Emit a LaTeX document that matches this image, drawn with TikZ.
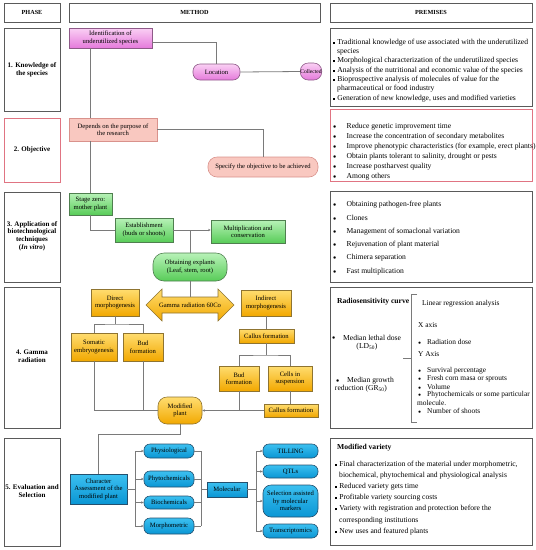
\documentclass[tikz,border=0pt]{standalone}
\usepackage{fontspec}
\setmainfont{Liberation Serif}
\usetikzlibrary{arrows.meta}
\definecolor{magT}{HTML}{FAD0F4}
\definecolor{magB}{HTML}{E57ADB}
\definecolor{magD}{HTML}{8E5A88}
\definecolor{salF}{HTML}{F9C8C0}
\definecolor{salD}{HTML}{D9928C}
\definecolor{grnT}{HTML}{B8F2B8}
\definecolor{grnB}{HTML}{58CC58}
\definecolor{grnD}{HTML}{4F7F4F}
\definecolor{orgT}{HTML}{FFDD70}
\definecolor{orgB}{HTML}{F2A800}
\definecolor{orgD}{HTML}{8F7430}
\definecolor{bluT}{HTML}{3CC0F0}
\definecolor{bluB}{HTML}{0A96D4}
\definecolor{bluD}{HTML}{24506E}
\definecolor{lineC}{HTML}{7A7A7A}
\definecolor{frameC}{HTML}{5A5A5A}
\definecolor{pinkD}{HTML}{E07482}
\newcommand\sqb{\raisebox{0.8pt}{\rule{1.7pt}{1.7pt}}\hspace{2.4pt}}
\newcommand\dotb{\raisebox{0.2pt}{\scalebox{0.75}{$\bullet$}}}
\newcommand\rbul{\makebox[13.5pt][l]{\dotb}}
\newcommand\sbul{\makebox[9pt][l]{\dotb}}
\newcommand\bx[7]{\node[#6, minimum width={(#4-#2)*1pt}, minimum height={(#5-#3)*1pt}] (#1) at ({(#2+#4)/2},{(#3+#5)/2}) {#7};}
\newcommand\pl[4]{\node[ptxt] (#1) at (#2,#3) {#4};}
\tikzset{
  frame/.style={draw=frameC, line width=0.8pt, inner sep=0pt},
  hdrtxt/.style={font=\fontsize{6.2}{7}\selectfont\bfseries},
  phtxt/.style={align=center, inner sep=0pt, font=\fontsize{7}{7.6}\selectfont\bfseries},
  base/.style={align=center, inner sep=0pt, line width=0.6pt, font=\fontsize{6.6}{7.5}\selectfont},
  magbox/.style={base, draw=magD, top color=magT, bottom color=magB},
  magpill/.style={magbox, rounded corners=7pt},
  salbox/.style={base, draw=salD, fill=salF},
  salpill/.style={salbox, rounded corners=9pt},
  grnbox/.style={base, draw=grnD, top color=grnT, bottom color=grnB},
  grnround/.style={grnbox, rounded corners=11pt},
  orgbox/.style={base, draw=orgD, top color=orgT, bottom color=orgB},
  orground/.style={orgbox, rounded corners=9pt},
  blubox/.style={base, draw=bluD, top color=bluT, bottom color=bluB},
  blupill/.style={blubox, rounded corners=6pt},
  bluround/.style={blubox, rounded corners=8pt},
  conn/.style={draw=lineC, line width=0.8pt},
  arr/.style={conn, -{Stealth[length=2.6pt,width=2.4pt]}},
  ptxt/.style={anchor=west, inner sep=0pt, font=\fontsize{7.6}{8}\selectfont},
  ptxts/.style={ptxt, font=\fontsize{7.4}{8}\selectfont},
}
\begin{document}
\begin{tikzpicture}[x=1pt,y=-1pt]
\useasboundingbox (0,0) rectangle (536,550);
% ---------- headers ----------
\bx{hphase}{4}{3}{60}{22}{frame}{}
\bx{hmethod}{69}{3}{320}{22}{frame}{}
\bx{hprem}{330}{3}{532}{22}{frame}{}
\node[hdrtxt] (thphase) at (hphase) {PHASE};
\node[hdrtxt] (thmethod) at (hmethod) {METHOD};
\node[hdrtxt] (thprem) at (hprem) {PREMISES};
% ---------- phase boxes ----------
\bx{ph1}{4}{28}{60}{111}{frame}{}
\bx{ph2}{4}{118}{60}{182}{frame, draw=pinkD}{}
\bx{ph3}{4}{192}{60}{282}{frame}{}
\bx{ph4}{4}{287}{60}{428}{frame}{}
\bx{ph5}{4}{438}{60}{546}{frame}{}
\node[phtxt] (tph1) at (ph1) {1. Knowledge of\\the species};
\node[phtxt] (tph2) at (ph2) {2. Objective};
\node[phtxt] (tph3) at (32,236) {3. Application of\\biotechnological\\techniques\\(\textit{In vitro})};
\node[phtxt] (tph4) at (32,356) {4. Gamma\\radiation};
\node[phtxt] (tph5) at (32,491) {5. Evaluation and\\Selection};
% ---------- premises boxes ----------
\bx{pr1}{330}{28}{532}{106}{frame}{}
\bx{pr2}{330}{109}{532}{181}{frame, draw=pinkD}{}
\bx{pr3}{330}{191}{532}{282}{frame}{}
\bx{pr4}{330}{287}{532}{428}{frame}{}
\bx{pr5}{330}{438}{532}{545}{frame}{}
% premises 1
\pl{p1a}{333}{43}{\sqb Traditional knowledge of use associated with the underutilized}
\pl{p1b}{337}{52}{species}
\pl{p1c}{333}{61}{\sqb Morphological characterization of the underutilized species}
\pl{p1d}{333}{71}{\sqb Analysis of the nutritional and economic value of the species}
\pl{p1e}{333}{80}{\sqb Bioprospective analysis of molecules of value for the}
\pl{p1f}{337}{89}{pharmaceutical or food industry}
\pl{p1g}{333}{99}{\sqb Generation of new knowledge, uses and modified varieties}
% premises 2
\pl{p2a}{333}{127}{\rbul Reduce genetic improvement time}
\pl{p2b}{333}{137}{\rbul Increase the concentration of secondary metabolites}
\pl{p2c}{333}{147}{\rbul Improve phenotypic characteristics (for example, erect plants)}
\pl{p2d}{333}{157}{\rbul Obtain plants tolerant to salinity, drought or pests}
\pl{p2e}{333}{167}{\rbul Increase postharvest quality}
\pl{p2f}{333}{177}{\rbul Among others}
% premises 3
\pl{p3a}{333}{205}{\rbul Obtaining pathogen-free plants}
\pl{p3b}{333}{218}{\rbul Clones}
\pl{p3c}{333}{232}{\rbul Management of somaclonal variation}
\pl{p3d}{333}{245}{\rbul Rejuvenation of plant material}
\pl{p3e}{333}{258}{\rbul Chimera separation}
\pl{p3f}{333}{272}{\rbul Fast multiplication}
% premises 4
\pl{p4a}{337}{302}{\textbf{Radiosensitivity curve}}
\pl{p4b}{332}{338}{\dotb}
\pl{p4c}{343}{338}{Median lethal dose}
\node[ptxt, anchor=center] (p4d) at (367,347) {(LD\textsubscript{50})};
\pl{p4e}{336}{381}{\dotb}
\pl{p4f}{347}{381}{Median growth}
\node[ptxt, anchor=center] (p4g) at (361,389) {reduction (GR\textsubscript{50})};
\draw[conn] (417,294) -- (411,294) -- (411,422) -- (417,422);
\draw[conn] (403,358) -- (411,358);
\node[ptxts] (p4h) at (422,304) {Linear regression analysis};
\node[ptxts] (p4i) at (418,325) {X axis};
\node[ptxts] (p4j) at (418,342) {\sbul Radiation dose};
\node[ptxts] (p4k) at (418,354) {Y Axis};
\node[ptxts] (p4l) at (418,371) {\sbul Survival percentage};
\node[ptxts] (p4m) at (418,379) {\sbul Fresh corn masa or sprouts};
\node[ptxts] (p4n) at (418,387) {\sbul Volume};
\node[ptxts] (p4o) at (418,395) {\sbul Phytochemicals or some particular};
\node[ptxts] (p4p) at (417,403) {molecule.};
\node[ptxts] (p4q) at (418,411) {\sbul Number of shoots};
% premises 5
\pl{p5a}{337}{448}{\textbf{Modified variety}}
\pl{p5b}{335}{465}{\sqb Final characterization of the material under morphometric,}
\pl{p5c}{339}{476}{biochemical, phytochemical and physiological analysis}
\pl{p5d}{335}{487}{\sqb Reduced variety gets time}
\pl{p5e}{335}{498}{\sqb Profitable variety sourcing costs}
\pl{p5f}{335}{509}{\sqb Variety with registration and protection before the}
\pl{p5g}{339}{521}{corresponding institutions}
\pl{p5h}{335}{532}{\sqb New uses and featured plants}
% ---------- method nodes ----------
\bx{ident}{69}{28}{152}{48}{magbox}{Identification of\\underutilized species}
\bx{loc}{193}{64}{240}{80}{magpill}{Location}
\bx{coll}{301}{63}{321}{80}{magpill, rounded corners=8pt, font=\fontsize{5.6}{6}\selectfont}{Collected}
\bx{dep}{69}{118}{157}{141}{salbox}{Depends on the purpose of\\the research}
\bx{spec}{208}{157}{318}{177}{salpill}{Specify the objective to be achieved}
\bx{stage}{69}{193}{112}{215}{grnbox}{Stage zero:\\mother plant}
\bx{estab}{115}{218}{173}{242}{grnbox}{Establishment\\(buds or shoots)}
\bx{mult}{211}{220}{285}{243}{grnbox}{Multiplication and\\conservation}
\bx{expl}{153}{253}{227}{281}{grnround}{Obtaining explants\\(Leaf, stem, root)}
% gamma double arrow
\path[draw=orgD, line width=0.6pt, top color=orgT, bottom color=orgB]
  (146,305) -- (162,289) -- (162,297) -- (218,297) -- (218,289) -- (234,305)
  -- (218,321) -- (218,313) -- (162,313) -- (162,321) -- cycle;
\node[base] (gamma) at (190,305) {Gamma radiation 60Co};
\coordinate (gtop) at (190,297);
\bx{direct}{91}{289}{139}{316}{orgbox}{Direct\\morphogenesis}
\bx{indirect}{241}{290}{291}{316}{orgbox}{Indirect\\morphogenesis}
\bx{somatic}{71}{333}{117}{361}{orgbox}{Somatic\\embryogenesis}
\bx{budL}{123}{333}{163}{361}{orgbox}{Bud\\formation}
\bx{callU}{239}{329}{294}{343}{orgbox}{Callus formation}
\bx{budR}{219}{366}{259}{391}{orgbox}{Bud\\formation}
\bx{cells}{268}{366}{312}{391}{orgbox}{Cells in\\suspension}
\bx{callL}{264}{404}{318}{417}{orgbox}{Callus formation}
\bx{modp}{158}{397}{202}{424}{orground}{Modified\\plant}
\bx{charA}{70}{474}{127}{504}{blubox}{Character\\Assessment of the\\modified plant}
\bx{phys}{144}{444}{194}{458}{blupill}{Physiological}
\bx{phyto}{144}{471}{194}{487}{blupill}{Phytochemicals}
\bx{bioc}{144}{496}{194}{509}{blupill}{Biochemicals}
\bx{morph}{144}{518}{194}{534}{blupill}{Morphometric}
\bx{molec}{207}{482}{247}{497}{blubox}{Molecular}
\bx{till}{263}{444}{318}{458}{blupill}{TILLING}
\bx{qtl}{263}{465}{318}{478}{blupill}{QTLs}
\bx{sel}{263}{485}{318}{517}{bluround}{Selection assisted\\by molecular\\markers}
\bx{trans}{263}{524}{318}{538}{blupill}{Transcriptomics}
% ---------- connectors ----------
\draw[conn] ([yshift=-4pt]ident.east) -| (loc.north);
\draw[conn] (loc.east) -- (coll.west);
\draw[conn] (ident.south -| stage.north) -- (dep.north -| stage.north);
\draw[conn] (dep.east) -| (spec.north);
\draw[conn] (dep.south -| stage.north) -- (stage.north);
\draw[conn] (stage.south) |- (estab.west);
\draw[arr] (estab.east) -- (estab.east -| mult.west);
\draw[conn] (expl.north |- estab.east) -- (expl.north);
\draw[conn] (expl.south) -- (gtop);
\coordinate (dj) at (115,324);
\draw[conn] (direct.south) -- (dj);
\draw[conn] (somatic.north) |- (dj) -| (budL.north);
\draw[conn] (indirect.south) -- (indirect.south |- callU.north);
\coordinate (cj) at (266.5,355);
\draw[conn] (callU.south) -- (cj);
\draw[conn] (budR.north) |- (cj) -| (cells.north);
\draw[conn] (cells.south) -- (cells.south |- callL.north);
\draw[conn] (somatic.south) |- (modp.west);
\draw[conn] (budL.south) -- (budL.south |- modp.west);
\draw[conn] (budR.south) -- (budR.south |- modp.east);
\draw[arr] (callL.west) -- (callL.west -| modp.east);
\coordinate (mj) at (98.5,434);
\draw[conn] (modp.south) |- (mj) -- (charA.north);
\coordinate (lb) at (135,489);
\coordinate (rb) at (201,489);
\coordinate (mb) at (256,489);
\draw[conn] (charA.east) -- (lb);
\draw[conn] (phys.west -| lb) -- (morph.west -| lb);
\draw[conn] (phys.east -| rb) -- (morph.east -| rb);
\foreach \n in {phys,phyto,bioc,morph}{
  \draw[arr] (\n.west -| lb) -- (\n.west);
  \draw[conn] (\n.east) -- (\n.east -| rb);
}
\draw[conn] (rb |- molec.west) -- (molec.west);
\draw[conn] (molec.east) -- (molec.east -| mb);
\draw[conn] (till.west -| mb) -- (trans.west -| mb);
\foreach \n in {till,qtl,sel,trans}{
  \draw[arr] (\n.west -| mb) -- (\n.west);
}
\end{tikzpicture}
\end{document}
